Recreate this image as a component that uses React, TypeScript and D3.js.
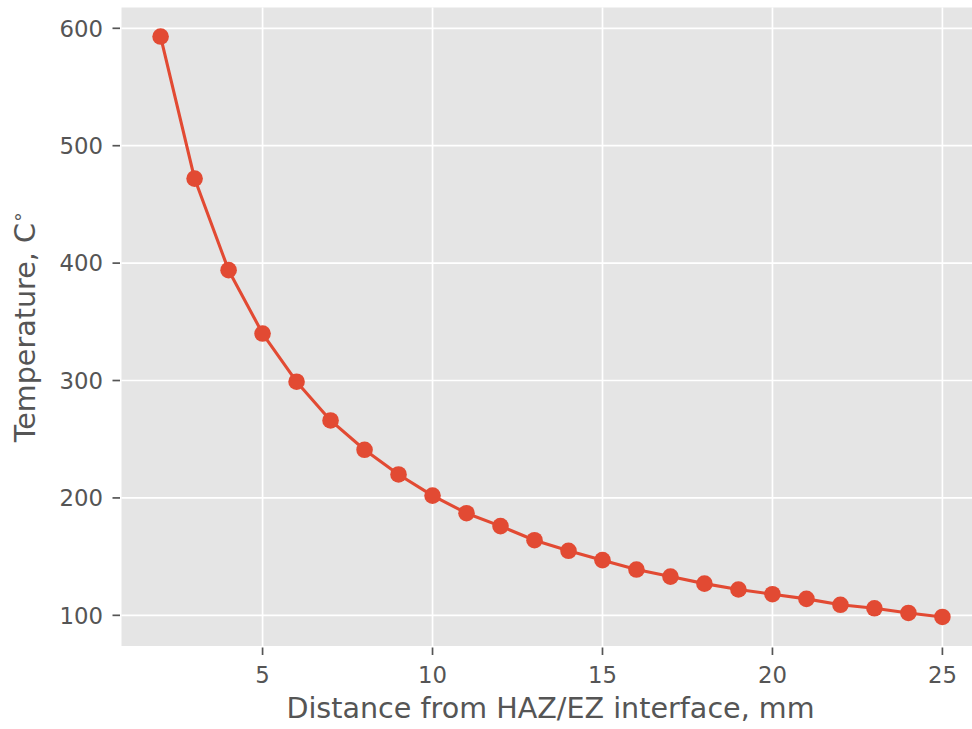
import React from "react";
import * as d3 from "d3";

// Distance from the HAZ/EZ interface (mm) and peak temperature (°C)
const distances = [2, 3, 4, 5, 6, 7, 8, 9, 10, 11, 12, 13, 14, 15, 16, 17, 18, 19, 20, 21, 22, 23, 24, 25];
const temperatures = [593, 472, 394, 340, 299, 266, 241, 220, 202, 187, 176, 164, 155, 147, 139, 133, 127, 122, 118, 114, 109, 106, 102, 98.6];
const xTicks = [5, 10, 15, 20, 25];
const yTicks = [100, 200, 300, 400, 500, 600];
const xLabel = "Distance from HAZ/EZ interface, mm";
const yLabel = "Temperature, C";

const W = 972;
const H = 729;
const plot = { left: 121.5, top: 7.5, right: 981.5, bottom: 646 };
const textColor = "#555555";
const lineColor = "#E24A33";
const font = "DejaVu Sans, sans-serif";
const tickFont = 22.8;
const labelFont = 28.6;

// matplotlib-style 5% padding around the data range
function padded(values: number[]): [number, number] {
  const [lo, hi] = d3.extent(values) as [number, number];
  const m = (hi - lo) * 0.05;
  return [lo - m, hi + m];
}

export default function App() {
  const x = d3.scaleLinear().domain(padded(distances)).range([plot.left, plot.right]);
  const y = d3.scaleLinear().domain(padded(temperatures)).range([plot.bottom, plot.top]);
  const pts = distances.map((d, i) => [d, temperatures[i]] as [number, number]);
  const line = d3.line<[number, number]>().x((d) => x(d[0])).y((d) => y(d[1]));

  return (
    <svg width={W} height={H} style={{ position: "absolute", left: 0, top: 0, background: "#fff" }}>
      <defs>
        <clipPath id="plot-clip">
          <rect x={plot.left} y={plot.top} width={plot.right - plot.left} height={plot.bottom - plot.top} />
        </clipPath>
      </defs>
      <rect x={plot.left} y={plot.top} width={plot.right - plot.left} height={plot.bottom - plot.top} fill="#E5E5E5" />
      {xTicks.map((t) => (
        <line key={"gx" + t} x1={x(t)} x2={x(t)} y1={plot.top} y2={plot.bottom} stroke="#fff" strokeWidth={1.7} />
      ))}
      {yTicks.map((t) => (
        <line key={"gy" + t} x1={plot.left} x2={plot.right} y1={y(t)} y2={y(t)} stroke="#fff" strokeWidth={1.7} />
      ))}
      <g clipPath="url(#plot-clip)">
        <path d={line(pts) ?? ""} fill="none" stroke={lineColor} strokeWidth={3.1} strokeLinejoin="round" />
        {pts.map((p, i) => (
          <circle key={i} cx={x(p[0])} cy={y(p[1])} r={8.3} fill={lineColor} />
        ))}
      </g>
      {xTicks.map((t) => (
        <g key={"tx" + t}>
          <line x1={x(t)} x2={x(t)} y1={plot.bottom + 1.5} y2={plot.bottom + 9} stroke={textColor} strokeWidth={1.7} />
          <text x={x(t)} y={683} textAnchor="middle" fontFamily={font} fontSize={tickFont} fill={textColor}>
            {t}
          </text>
        </g>
      ))}
      {yTicks.map((t) => (
        <g key={"ty" + t}>
          <line x1={plot.left - 9} x2={plot.left - 1.5} y1={y(t)} y2={y(t)} stroke={textColor} strokeWidth={1.7} />
          <text x={103} y={y(t)} dy="0.36em" textAnchor="end" fontFamily={font} fontSize={tickFont} fill={textColor}>
            {t}
          </text>
        </g>
      ))}
      <text x={(plot.left + plot.right) / 2 - 1} y={718} textAnchor="middle" fontFamily={font} fontSize={labelFont} fill={textColor}>
        {xLabel}
      </text>
      <text
        transform={`translate(35, ${(plot.top + plot.bottom) / 2}) rotate(-90)`}
        textAnchor="middle"
        fontFamily={font}
        fontSize={labelFont}
        fill={textColor}
      >
        {yLabel}
        <tspan fontSize={19} dy={-11}>∘</tspan>
      </text>
    </svg>
  );
}
